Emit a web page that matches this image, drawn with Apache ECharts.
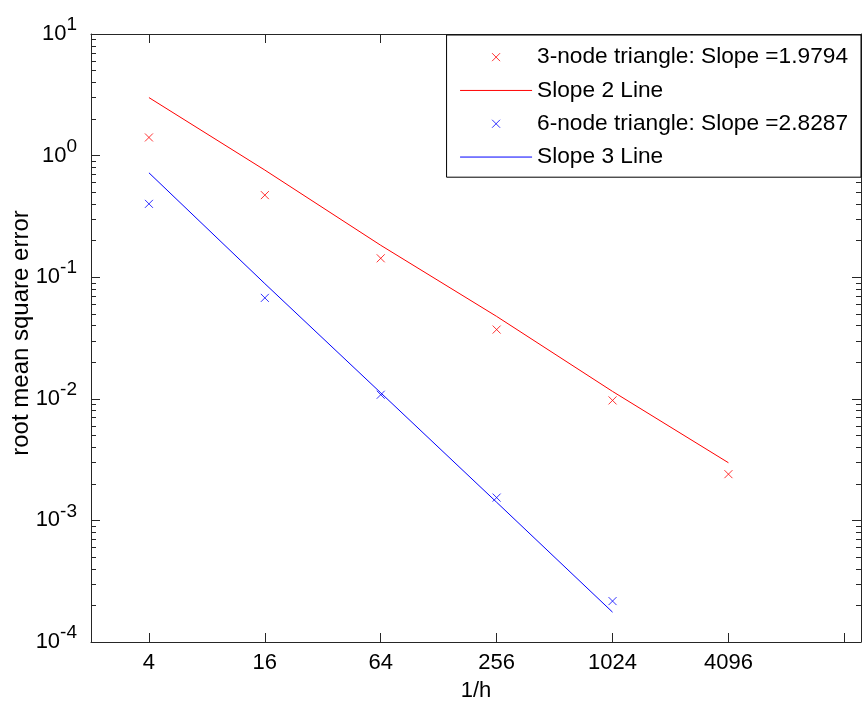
<!DOCTYPE html>
<html><head><meta charset="utf-8">
<script src="https://cdn.jsdelivr.net/npm/echarts@6/dist/echarts.min.js"></script>
<style>html,body{margin:0;padding:0;background:#fff}#c{width:865px;height:709px}</style>
</head><body><div id="c"></div>
<script>
// ---- data ----
const xValues = [4, 16, 64, 256, 1024, 4096];
const xTickLabels = ['4', '16', '64', '256', '1024', '4096'];
const tri3Err = [1.41, 0.473, 0.143, 0.0371, 0.0097, 0.0024];
const slope2Line = [3.0, 0.76, 0.183, 0.0476, 0.0115, 0.00298];
const tri6X = [4, 16, 64, 256, 1024];
const tri6Err = [0.401, 0.0676, 0.0108, 0.00154, 0.000217];
const slope3Line = [0.722, 0.0885, 0.0112, 0.00141, 0.000176];
const seriesNames = ['3-node triangle: Slope =1.9794', 'Slope 2 Line', '6-node triangle: Slope =2.8287', 'Slope 3 Line'];
const xTitle = '1/h';
const yTitle = 'root mean square error';

// ---- styling ----
const RED = '#ff0000', BLUE = '#0000ff', AX = '#262626', TXT = '#000';
const FONT = 'Liberation Sans';
const xMark = 'path://M0,0L8,8M8,0L0,8';
const legendX = 'path://M0,0M72,14M32,3L40,11M40,3L32,11';
const legendLine = 'path://M0,0M72,14M0,7L72,7';

function pairs(xs, ys) { return xs.map((x, i) => [x, ys[i]]); }

const xLabelFmt = v => {
  const i = xValues.findIndex(t => Math.abs(t - v) < 1e-6 * t);
  return i >= 0 ? xTickLabels[i] : '';
};

const xBase = {
  type: 'log', logBase: 4, min: 2, max: 20000,
  axisLine: { lineStyle: { color: AX, width: 1 } },
  axisTick: { inside: true, length: 9, lineStyle: { color: AX } },
  splitLine: { show: false },
};
const yBase = {
  type: 'log', logBase: 10, min: 1e-4, max: 10,
  axisLine: { lineStyle: { color: AX, width: 1 } },
  axisTick: { inside: true, length: 9, lineStyle: { color: AX } },
  minorTick: { show: true, splitNumber: 9, length: 5, lineStyle: { color: AX } },
  splitLine: { show: false },
};

const chart = echarts.init(document.getElementById('c'), null, { renderer: 'canvas' });
chart.setOption({
  animation: false,
  backgroundColor: '#fff',
  grid: { left: 91, right: 4, top: 34, bottom: 67, containLabel: false, outerBoundsMode: 'none' },
  xAxis: [
    Object.assign({}, xBase, {
      position: 'bottom',
      axisLabel: { formatter: xLabelFmt, fontFamily: FONT, fontSize: 22, color: TXT, margin: 10 },
      name: xTitle, nameLocation: 'middle', nameGap: 38, nameMoveOverlap: false,
      nameTextStyle: { fontFamily: FONT, fontSize: 22, color: TXT }
    }),
    Object.assign({}, xBase, { position: 'top', axisLabel: { show: false } })
  ],
  yAxis: [
    Object.assign({}, yBase, {
      position: 'left',
      axisLabel: {
        margin: 14,
        formatter: v => '{b|10}{s|' + Math.round(Math.log10(v)) + '}',
        rich: {
          b: { fontFamily: FONT, fontSize: 22, color: TXT, lineHeight: 22, verticalAlign: 'middle' },
          s: { fontFamily: FONT, fontSize: 19, color: TXT, lineHeight: 37, verticalAlign: 'top' }
        }
      },
      name: yTitle, nameLocation: 'middle', nameGap: 58, nameRotate: 90, nameMoveOverlap: false,
      nameTextStyle: { fontFamily: FONT, fontSize: 24, color: TXT, padding: [0, 0, 0, 10] }
    }),
    Object.assign({}, yBase, { position: 'right', axisLabel: { show: false } })
  ],
  legend: {
    orient: 'vertical', right: 4, top: 35,
    padding: [10, 13, 8, 13],
    itemWidth: 72, itemHeight: 14, itemGap: 9, itemTextGap: 5,
    borderColor: '#000', borderWidth: 1, backgroundColor: '#fff',
    textStyle: { fontFamily: FONT, fontSize: 22.7, color: TXT, lineHeight: 24.3 },
    data: [
      { name: seriesNames[0], icon: legendX, itemStyle: { color: RED, borderColor: RED, borderWidth: 1 } },
      { name: seriesNames[1], icon: legendLine, itemStyle: { color: RED, borderColor: RED, borderWidth: 1 } },
      { name: seriesNames[2], icon: legendX, itemStyle: { color: BLUE, borderColor: BLUE, borderWidth: 1 } },
      { name: seriesNames[3], icon: legendLine, itemStyle: { color: BLUE, borderColor: BLUE, borderWidth: 1 } }
    ]
  },
  series: [
    { name: seriesNames[0], type: 'scatter', data: pairs(xValues, tri3Err), symbol: xMark, symbolSize: 8,
      itemStyle: { color: RED, borderColor: RED, borderWidth: 1 } },
    { name: seriesNames[1], type: 'line', data: pairs(xValues, slope2Line), symbol: 'none', showSymbol: false,
      lineStyle: { color: RED, width: 1 }, itemStyle: { color: RED } },
    { name: seriesNames[2], type: 'scatter', data: pairs(tri6X, tri6Err), symbol: xMark, symbolSize: 8,
      itemStyle: { color: BLUE, borderColor: BLUE, borderWidth: 1 } },
    { name: seriesNames[3], type: 'line', data: pairs(tri6X, slope3Line), symbol: 'none', showSymbol: false,
      lineStyle: { color: BLUE, width: 1 }, itemStyle: { color: BLUE } }
  ]
});
</script>
</body></html>
